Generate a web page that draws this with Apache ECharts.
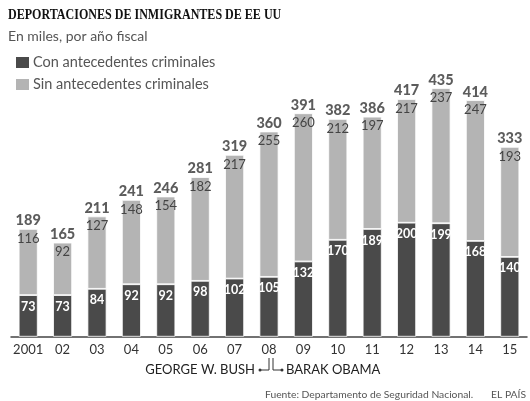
<!DOCTYPE html>
<html><head><meta charset="utf-8">
<script src="https://cdn.jsdelivr.net/npm/echarts@6/dist/echarts.min.js"></script>
<style>html,body{margin:0;padding:0;background:#fff}#c{width:530px;height:401px}</style>
</head><body><div id="c"></div>
<script>
const years = ['2001','02','03','04','05','06','07','08','09','10','11','12','13','14','15'];
const conAntecedentes = [73,73,84,92,92,98,102,105,132,170,189,200,199,168,140];
const sinAntecedentes = [116,92,127,148,154,182,217,255,260,212,197,217,237,247,193];
const totales = [189,165,211,241,246,281,319,360,391,382,386,417,435,414,333];

const FONT = 'Lato';
const chart = echarts.init(document.getElementById('c'), null, {renderer:'canvas'});
chart.setOption({
  animation:false,
  backgroundColor:'#fff',
  grid:{left:11, right:3, top:51.7, bottom:64.3},
  legend:{
    orient:'vertical', left:14, top:55, padding:0, itemWidth:15, itemHeight:13, itemGap:7,
    icon:'rect',
    textStyle:{fontFamily:FONT, fontSize:14.5, color:'#555', padding:[0,0,0,-2]},
    data:['Con antecedentes criminales','Sin antecedentes criminales']
  },
  xAxis:{
    type:'category', data:years,
    axisLine:{lineStyle:{color:'#444', width:1.5}},
    axisTick:{show:false},
    axisLabel:{interval:0, fontFamily:FONT, fontSize:13, color:'#333', margin:7}
  },
  yAxis:{type:'value', min:0, max:500, show:false, splitLine:{show:false}},
  series:[
    {
      name:'Con antecedentes criminales', type:'bar', stack:'t', barWidth:19,
      data:conAntecedentes,
      itemStyle:{color:'#4a4a4a', borderColor:'#fff', borderWidth:0.8},
      label:{show:true, position:'insideTop', distance:5, color:'#fff', fontFamily:FONT, fontWeight:'bold', fontSize:12.5}
    },
    {
      name:'Sin antecedentes criminales', type:'bar', stack:'t', barWidth:19,
      data:sinAntecedentes,
      itemStyle:{color:'#b4b4b4', borderColor:'#fff', borderWidth:0.8},
      label:{show:true, position:'insideTop', distance:3, color:'#444', fontFamily:FONT, fontSize:13}
    },
    {
      name:'total', type:'scatter', symbolSize:0, data:totales,
      label:{show:true, position:'top', distance:1, color:'#333', fontFamily:FONT, fontWeight:900, fontSize:14.5}
    }
  ],
  graphic:[
    {type:'text', x:8, y:8, scaleX:0.86, style:{text:'DEPORTACIONES DE INMIGRANTES DE EE UU', font:'bold 14px "Liberation Serif"', fill:'#111'}},
    {type:'text', left:8, top:29, style:{text:'En miles, por año fiscal', font:'14px Lato', fill:'#555'}},
    {type:'text', right:275, top:363, style:{text:'GEORGE W. BUSH', font:'13px Lato', fill:'#222'}},
    {type:'text', left:286, top:363, style:{text:'BARAK OBAMA', font:'13px Lato', fill:'#222'}},
    {type:'polyline', shape:{points:[[269,358],[269,370],[260,370]]}, style:{stroke:'#333', lineWidth:1, fill:null}},
    {type:'polyline', shape:{points:[[273,358],[273,370],[282,370]]}, style:{stroke:'#333', lineWidth:1, fill:null}},
    {type:'circle', shape:{cx:260, cy:370, r:1.5}, style:{fill:'#333'}},
    {type:'circle', shape:{cx:282, cy:370, r:1.5}, style:{fill:'#333'}},
    {type:'text', left:265, top:390, style:{text:'Fuente: Departamento de Seguridad Nacional.', font:'10.3px Lato', fill:'#555'}},
    {type:'text', right:4, top:390, style:{text:'EL PAÍS', font:'10.3px Lato', fill:'#555'}}
  ]
});
</script></body></html>
